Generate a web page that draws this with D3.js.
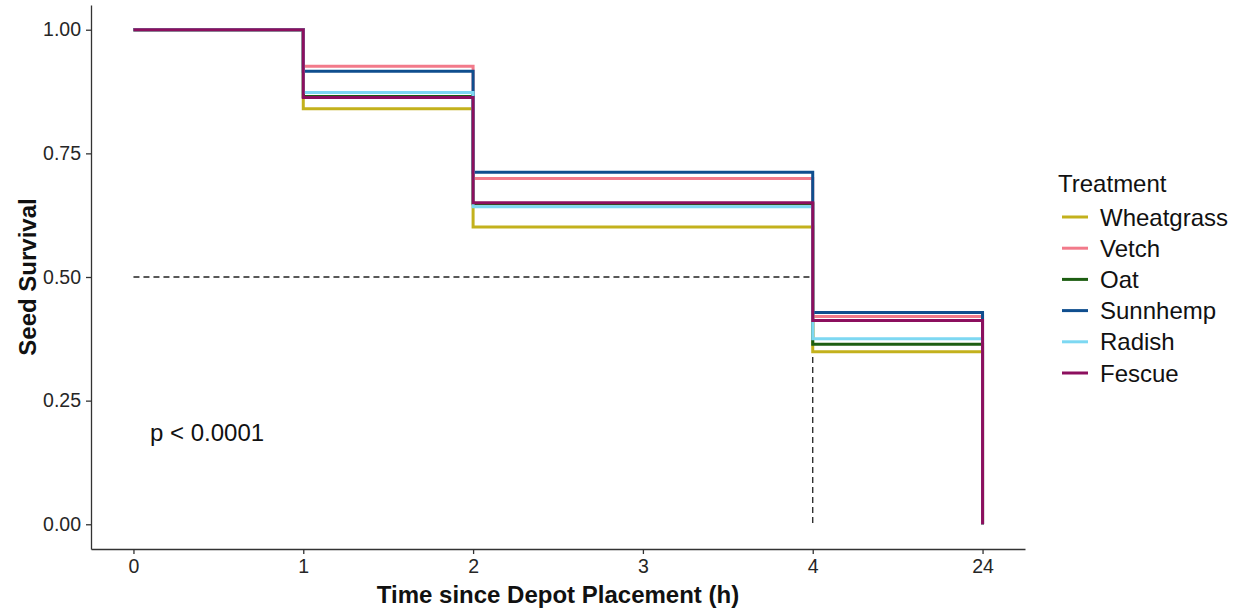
<!DOCTYPE html>
<html>
<head>
<meta charset="utf-8">
<script src="https://cdn.jsdelivr.net/npm/d3@7"></script>
<style>
  html, body { margin: 0; padding: 0; background: #fff; }
  svg { display: block; font-family: "Liberation Sans", Arial, sans-serif; }
</style>
</head>
<body>
<svg id="chart" width="1242" height="613"></svg>
<script>
// Time points (h) shown as evenly spaced categories
const timeLabels = ["0", "1", "2", "3", "4", "24"];
// Positions (index into timeLabels) at which survival is estimated
const stepIndex = [0, 1, 2, 4, 5];

const treatments = ["Wheatgrass", "Vetch", "Oat", "Sunnhemp", "Radish", "Fescue"];
const colors = ["#c3b11c", "#f27a8a", "#1d5e12", "#0f4e8e", "#7dd8f2", "#8c0f5e"];

// Kaplan–Meier survival estimates at each step position
const wheatgrass = [1, 0.840, 0.601, 0.349, 0];
const vetch      = [1, 0.926, 0.699, 0.420, 0];
const oat        = [1, 0.865, 0.648, 0.364, 0];
const sunnhemp   = [1, 0.916, 0.712, 0.428, 0];
const radish     = [1, 0.873, 0.642, 0.375, 0];
const fescue     = [1, 0.863, 0.650, 0.412, 0];
const survival = [wheatgrass, vetch, oat, sunnhemp, radish, fescue];

const yTicks = [0, 0.25, 0.5, 0.75, 1];
const medianSurvival = 0.5;
const medianIndex = 4;
const pLabel = "p < 0.0001";

const svg = d3.select("#chart");
const margin = { left: 91, right: 217, top: 5, bottom: 64 };
const W = 1242, H = 613;

const x = d3.scaleLinear()
  .domain([-0.25, timeLabels.length - 1 + 0.25])
  .range([margin.left, W - margin.right]);
const y = d3.scaleLinear()
  .domain([-0.05, 1.05])
  .range([H - margin.bottom, margin.top]);

const axisColor = "#333";
const tickText = "#262626";

// Y axis
const yAxis = svg.append("g")
  .attr("transform", `translate(${margin.left},0)`)
  .call(d3.axisLeft(y).tickValues(yTicks).tickFormat(d3.format(".2f")).tickSize(5).tickSizeOuter(0));
yAxis.select(".domain").attr("stroke", axisColor).attr("stroke-width", 1.3);
yAxis.selectAll(".tick line").attr("stroke", axisColor).attr("stroke-width", 1.3);
yAxis.selectAll(".tick text").attr("fill", tickText).attr("font-size", 19.5)
  .attr("x", -10).attr("font-family", "Liberation Sans, Arial, sans-serif");

// X axis
const xAxis = svg.append("g")
  .attr("transform", `translate(0,${H - margin.bottom})`)
  .call(d3.axisBottom(x).tickValues(d3.range(timeLabels.length))
    .tickFormat(i => timeLabels[i]).tickSize(5).tickSizeOuter(0));
xAxis.select(".domain").attr("stroke", axisColor).attr("stroke-width", 1.3);
xAxis.selectAll(".tick line").attr("stroke", axisColor).attr("stroke-width", 1.3);
xAxis.selectAll(".tick text").attr("fill", tickText).attr("font-size", 19.5)
  .attr("y", 10).attr("font-family", "Liberation Sans, Arial, sans-serif");

// Axis titles
svg.append("text")
  .attr("x", x(2.5)).attr("y", 603)
  .attr("text-anchor", "middle").attr("font-weight", "bold").attr("font-size", 24)
  .attr("fill", "#111")
  .text("Time since Depot Placement (h)");
svg.append("text")
  .attr("transform", `translate(36,${y(0.5)}) rotate(-90)`)
  .attr("text-anchor", "middle").attr("font-weight", "bold").attr("font-size", 24)
  .attr("fill", "#111")
  .text("Seed Survival");

// Median survival reference lines
const dash = "6,4";
svg.append("line")
  .attr("x1", x(0)).attr("x2", x(medianIndex))
  .attr("y1", y(medianSurvival)).attr("y2", y(medianSurvival))
  .attr("stroke", "#222").attr("stroke-width", 1.3).attr("stroke-dasharray", dash);
svg.append("line")
  .attr("x1", x(medianIndex)).attr("x2", x(medianIndex))
  .attr("y1", y(medianSurvival)).attr("y2", y(0))
  .attr("stroke", "#222").attr("stroke-width", 1.3).attr("stroke-dasharray", dash);

// Survival step curves
const line = d3.line()
  .x(d => x(d[0]))
  .y(d => y(d[1]))
  .curve(d3.curveStepAfter);

svg.append("g").selectAll("path")
  .data(survival)
  .join("path")
  .attr("d", vals => line(vals.map((v, i) => [stepIndex[i], v])))
  .attr("fill", "none")
  .attr("stroke", (d, i) => colors[i])
  .attr("stroke-width", 3)
  .attr("stroke-linejoin", "miter")
  .attr("stroke-linecap", "butt");

// Log-rank p-value
svg.append("text")
  .attr("x", 150).attr("y", 441)
  .attr("font-size", 24).attr("fill", "#111")
  .text(pLabel);

// Legend
const legend = svg.append("g").attr("transform", "translate(1058,0)");
legend.append("text")
  .attr("x", 0).attr("y", 192)
  .attr("font-size", 24).attr("fill", "#111")
  .text("Treatment");
const item = legend.selectAll("g.item")
  .data(treatments)
  .join("g")
  .attr("class", "item")
  .attr("transform", (d, i) => `translate(0,${217 + i * 31.2})`);
item.append("line")
  .attr("x1", 4).attr("x2", 30)
  .attr("stroke", (d, i) => colors[i])
  .attr("stroke-width", 3);
item.append("text")
  .attr("x", 42).attr("y", 8.5)
  .attr("font-size", 24).attr("fill", "#111")
  .text(d => d);
</script>
</body>
</html>
